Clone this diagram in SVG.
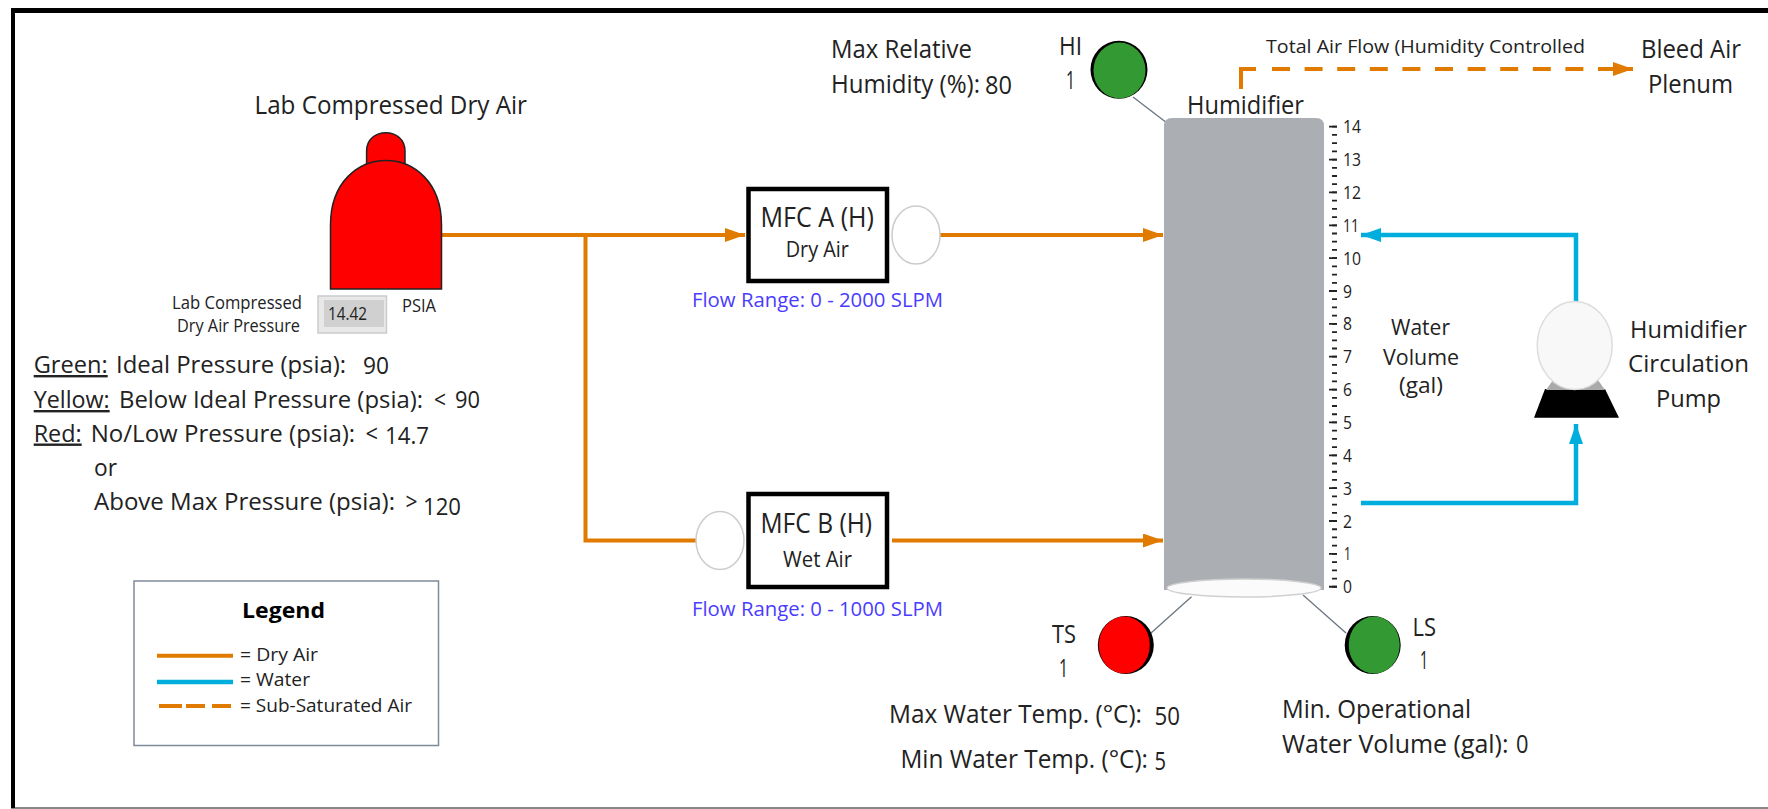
<svg xmlns="http://www.w3.org/2000/svg" width="1768" height="809" viewBox="0 0 1768 809">
<style>
text{font-family:"Open Sans","Noto Sans","Liberation Sans",sans-serif;fill:#222;font-size:24px}
.sm{font-size:19px}.md{font-size:21px}.lg{font-size:25px}.hd{font-size:27px}.u{text-decoration:underline}
.blue{fill:#4a3cff;font-size:19.5px}.b{font-weight:700;fill:#000}
.air{fill:none;stroke:#e07b00;stroke-width:4}.water{fill:none;stroke:#00aede;stroke-width:4.5}
.lead{fill:none;stroke:#6b7680;stroke-width:1.3}
.valve{fill:#fff;stroke:#ccc;stroke-width:1.5}
.mfc{fill:#fff;stroke:#000;stroke-width:4.5}
</style>
<defs>
<marker id="ao" markerUnits="userSpaceOnUse" markerWidth="21" markerHeight="16" refX="20" refY="7" orient="auto"><path d="M0 0L20 7L0 14Z" fill="#e07b00"/></marker>
<marker id="ab" markerUnits="userSpaceOnUse" markerWidth="21" markerHeight="16" refX="20" refY="7" orient="auto"><path d="M0 0L20 7L0 14Z" fill="#00aede"/></marker>
</defs>
<rect width="1768" height="809" fill="#fff"/>
<g id="frame">
<rect x="11" y="807" width="1757" height="2" fill="#888"/>
<rect x="11" y="8" width="1757" height="5" fill="#000"/>
<rect x="11" y="8" width="4" height="800" fill="#000"/>
</g>
<g id="connectors">
<path class="air" d="M442 235H745" marker-end="url(#ao)"/>
<path class="air" d="M585.5 235V540.5H696"/>
<path class="air" d="M940 235H1163" marker-end="url(#ao)"/>
<path class="air" d="M892 540.5H1163" marker-end="url(#ao)"/>
<path class="air" d="M1241 89V69H1633" stroke-dasharray="35 16 18 14.6 18 14.6 18 14.6 18 14.6 18 14.6 18 14.6 18 14.6 18 14.6 18 14.6 18 14.6 40 0" marker-end="url(#ao)"/>
<path class="water" d="M1576 302V235H1361" marker-end="url(#ab)"/>
<path class="water" d="M1361 503H1576V424" marker-end="url(#ab)"/>
<path class="lead" d="M1133 97L1167 123"/>
<path class="lead" d="M1151 633L1191.5 596.7"/>
<path class="lead" d="M1303 595L1346 633"/>
</g>
<g id="tank-lab-air">
<path d="M366.600 165V151C366.600 126.500 405 126.500 405 151V165Z" fill="#f00" stroke="#222" stroke-width="1.500"/>
<path d="M330.500 289V225C330.500 139 441.500 139 441.500 225V289Z" fill="#f00" stroke="#222" stroke-width="1.500"/>
<text class="lg" x="254.500" y="114" textLength="272.500" lengthAdjust="spacingAndGlyphs">Lab Compressed Dry Air</text>
<text class="sm" x="172" y="309" textLength="130" lengthAdjust="spacingAndGlyphs">Lab Compressed</text>
<text class="sm" x="177" y="332" textLength="123" lengthAdjust="spacingAndGlyphs">Dry Air Pressure</text>
<rect x="318" y="296" width="68.500" height="37" fill="#e8e8e8" stroke="#ccc" stroke-width="1.500"/>
<rect x="324" y="300" width="60" height="27" fill="#d0d0d0"/>
<text class="sm" x="328" y="320" textLength="39" lengthAdjust="spacingAndGlyphs">14.42</text>
<text class="sm" x="402" y="312" textLength="34" lengthAdjust="spacingAndGlyphs">PSIA</text>
</g>
<g id="pressure-notes">
<text class="u" x="33.700" y="373" textLength="74" lengthAdjust="spacingAndGlyphs">Green:</text>
<text x="116" y="373" textLength="230" lengthAdjust="spacingAndGlyphs">Ideal Pressure (psia):</text>
<text x="363" y="374" textLength="26" lengthAdjust="spacingAndGlyphs">90</text>
<text class="u" x="33.700" y="408" textLength="76" lengthAdjust="spacingAndGlyphs">Yellow:</text>
<text x="119" y="408" textLength="304" lengthAdjust="spacingAndGlyphs">Below Ideal Pressure (psia):</text>
<text x="434" y="408" textLength="12" lengthAdjust="spacingAndGlyphs">&lt;</text>
<text x="455" y="408" textLength="25" lengthAdjust="spacingAndGlyphs">90</text>
<text class="u" x="33.700" y="441.500" textLength="48" lengthAdjust="spacingAndGlyphs">Red:</text>
<text x="90.700" y="441.500" textLength="264.500" lengthAdjust="spacingAndGlyphs">No/Low Pressure (psia):</text>
<text x="365.500" y="441.500" textLength="12.500" lengthAdjust="spacingAndGlyphs">&lt;</text>
<text x="385" y="444" textLength="44" lengthAdjust="spacingAndGlyphs">14.7</text>
<text x="94" y="476" textLength="23" lengthAdjust="spacingAndGlyphs">or</text>
<text x="94" y="510" textLength="301" lengthAdjust="spacingAndGlyphs">Above Max Pressure (psia):</text>
<text x="405.500" y="510" textLength="12" lengthAdjust="spacingAndGlyphs">&gt;</text>
<text x="423" y="515" textLength="38" lengthAdjust="spacingAndGlyphs">120</text>
</g>
<g id="legend">
<rect x="134" y="581" width="304.500" height="164.500" fill="#fff" stroke="#7f8a99" stroke-width="1.500"/>
<text class="md b" x="242" y="618" textLength="83" lengthAdjust="spacingAndGlyphs">Legend</text>
<path class="air" d="M157 655.700H233"/>
<path class="water" d="M157 682H233"/>
<path class="air" d="M159 706H182M186 706H205M212 706H231"/>
<text class="sm" x="240" y="660.700" textLength="78" lengthAdjust="spacingAndGlyphs">= Dry Air</text>
<text class="sm" x="240" y="686" textLength="70" lengthAdjust="spacingAndGlyphs">= Water</text>
<text class="sm" x="240" y="711.700" textLength="172" lengthAdjust="spacingAndGlyphs">= Sub-Saturated Air</text>
</g>
<g id="mfc-a">
<rect class="mfc" x="748.500" y="189" width="138.500" height="92"/>
<text class="hd" x="760.500" y="227" textLength="113.500" lengthAdjust="spacingAndGlyphs">MFC A (H)</text>
<text class="md" x="785.700" y="257" textLength="63.300" lengthAdjust="spacingAndGlyphs">Dry Air</text>
<text class="blue" x="692" y="307" textLength="251" lengthAdjust="spacingAndGlyphs">Flow Range: 0 - 2000 SLPM</text>
</g>
<g id="valve-a"><ellipse class="valve" cx="916" cy="235" rx="24" ry="29"/></g>
<g id="mfc-b">
<rect class="mfc" x="748.500" y="494" width="138.500" height="93"/>
<text class="hd" x="760.500" y="533" textLength="111.500" lengthAdjust="spacingAndGlyphs">MFC B (H)</text>
<text class="md" x="783" y="567" textLength="69" lengthAdjust="spacingAndGlyphs">Wet Air</text>
<text class="blue" x="692" y="615.700" textLength="251" lengthAdjust="spacingAndGlyphs">Flow Range: 0 - 1000 SLPM</text>
</g>
<g id="valve-b"><ellipse class="valve" cx="720" cy="540.500" rx="24" ry="29"/></g>
<g id="humidifier">
<path d="M1172 118H1316Q1324 118 1324 126V590H1164V126Q1164 118 1172 118Z" fill="#abaeb2"/>
<ellipse cx="1244" cy="588" rx="77" ry="9" fill="#fbfbfb" stroke="#d0d0d0" stroke-width="1.500"/>
<text class="lg" x="1187" y="114" textLength="117" lengthAdjust="spacingAndGlyphs">Humidifier</text>
</g>
<g id="water-scale">
<path d="M1329 126.700H1337M1329 159.560H1337M1329 192.420H1337M1329 225.280H1337M1329 258.140H1337M1329 291H1337M1329 323.860H1337M1329 356.720H1337M1329 389.580H1337M1329 422.440H1337M1329 455.300H1337M1329 488.160H1337M1329 521.020H1337M1329 553.880H1337M1329 586.740H1337" stroke="#222" stroke-width="1.800" fill="none"/>
<path d="M1334.500 125.800V587.700" stroke="#222" stroke-width="5" stroke-dasharray="1.800 6.415" fill="none"/>
<text class="sm" x="1343" y="133.200" textLength="18" lengthAdjust="spacingAndGlyphs">14</text>
<text class="sm" x="1343" y="166" textLength="18" lengthAdjust="spacingAndGlyphs">13</text>
<text class="sm" x="1343" y="198.900" textLength="18" lengthAdjust="spacingAndGlyphs">12</text>
<text class="sm" x="1343" y="231.800" textLength="16" lengthAdjust="spacingAndGlyphs">11</text>
<text class="sm" x="1343" y="264.600" textLength="18" lengthAdjust="spacingAndGlyphs">10</text>
<text class="sm" x="1343" y="297.500" textLength="9" lengthAdjust="spacingAndGlyphs">9</text>
<text class="sm" x="1343" y="330.400" textLength="9" lengthAdjust="spacingAndGlyphs">8</text>
<text class="sm" x="1343" y="363.200" textLength="9" lengthAdjust="spacingAndGlyphs">7</text>
<text class="sm" x="1343" y="396.100" textLength="9" lengthAdjust="spacingAndGlyphs">6</text>
<text class="sm" x="1343" y="428.900" textLength="9" lengthAdjust="spacingAndGlyphs">5</text>
<text class="sm" x="1343" y="461.800" textLength="9" lengthAdjust="spacingAndGlyphs">4</text>
<text class="sm" x="1343" y="494.700" textLength="9" lengthAdjust="spacingAndGlyphs">3</text>
<text class="sm" x="1343" y="527.500" textLength="9" lengthAdjust="spacingAndGlyphs">2</text>
<text class="sm" x="1344" y="560.400" textLength="7" lengthAdjust="spacingAndGlyphs">1</text>
<text class="sm" x="1343" y="593.200" textLength="9" lengthAdjust="spacingAndGlyphs">0</text>
<text class="md" x="1391" y="335" textLength="59" lengthAdjust="spacingAndGlyphs">Water</text>
<text class="md" x="1383" y="365" textLength="76" lengthAdjust="spacingAndGlyphs">Volume</text>
<text class="md" x="1399" y="393" textLength="44" lengthAdjust="spacingAndGlyphs">(gal)</text>
</g>
<g id="sensor-hi">
<ellipse cx="1119" cy="69.700" rx="28.500" ry="29" fill="#000"/>
<ellipse cx="1119.500" cy="70.500" rx="26" ry="28" fill="#339933"/>
<text class="lg" x="1059" y="55" textLength="23" lengthAdjust="spacingAndGlyphs">HI</text>
<text class="lg" x="1066" y="89" textLength="9" lengthAdjust="spacingAndGlyphs">1</text>
<text class="lg" x="831" y="58" textLength="141" lengthAdjust="spacingAndGlyphs">Max Relative</text>
<text class="lg" x="831" y="92.700" textLength="149" lengthAdjust="spacingAndGlyphs">Humidity (%):</text>
<text class="lg" x="985" y="94" textLength="27" lengthAdjust="spacingAndGlyphs">80</text>
</g>
<g id="sensor-ts">
<ellipse cx="1125.800" cy="645" rx="28" ry="29" fill="#000"/>
<ellipse cx="1124.300" cy="645" rx="25.500" ry="28.500" fill="#f00"/>
<text class="lg" x="1052" y="643" textLength="24" lengthAdjust="spacingAndGlyphs">TS</text>
<text class="lg" x="1059" y="677" textLength="9" lengthAdjust="spacingAndGlyphs">1</text>
<text class="lg" x="889" y="723" textLength="253" lengthAdjust="spacingAndGlyphs">Max Water Temp. (°C):</text>
<text class="lg" x="1154.500" y="725" textLength="25.500" lengthAdjust="spacingAndGlyphs">50</text>
<text class="lg" x="900.400" y="768" textLength="247.600" lengthAdjust="spacingAndGlyphs">Min Water Temp. (°C):</text>
<text class="lg" x="1154.500" y="770" textLength="11.500" lengthAdjust="spacingAndGlyphs">5</text>
</g>
<g id="sensor-ls">
<ellipse cx="1372.700" cy="645" rx="28" ry="29" fill="#000"/>
<ellipse cx="1374.200" cy="645" rx="25.500" ry="28.500" fill="#339933"/>
<text class="lg" x="1412.500" y="635.700" textLength="23.500" lengthAdjust="spacingAndGlyphs">LS</text>
<text class="lg" x="1420" y="669" textLength="8" lengthAdjust="spacingAndGlyphs">1</text>
<text class="lg" x="1282" y="718" textLength="189" lengthAdjust="spacingAndGlyphs">Min. Operational</text>
<text class="lg" x="1282" y="752.700" textLength="226.500" lengthAdjust="spacingAndGlyphs">Water Volume (gal):</text>
<text class="lg" x="1516" y="752.700" textLength="12.500" lengthAdjust="spacingAndGlyphs">0</text>
</g>
<g id="pump">
<path d="M1545 389H1605L1619 417.700H1534Z" fill="#000"/>
<path d="M1553 380H1598L1605 390H1546Z" fill="#aaa"/>
<ellipse cx="1574.700" cy="345.500" rx="37.500" ry="44" fill="#f8f8f8" stroke="#ddd" stroke-width="1.500"/>
<text x="1630" y="338" textLength="117" lengthAdjust="spacingAndGlyphs">Humidifier</text>
<text x="1628" y="372" textLength="121" lengthAdjust="spacingAndGlyphs">Circulation</text>
<text x="1656" y="407" textLength="65" lengthAdjust="spacingAndGlyphs">Pump</text>
</g>
<g id="plenum">
<text class="sm" x="1266" y="53" textLength="319" lengthAdjust="spacingAndGlyphs">Total Air Flow (Humidity Controlled</text>
<text class="lg" x="1641" y="58" textLength="100" lengthAdjust="spacingAndGlyphs">Bleed Air</text>
<text class="lg" x="1648" y="93" textLength="85" lengthAdjust="spacingAndGlyphs">Plenum</text>
</g>
</svg>
